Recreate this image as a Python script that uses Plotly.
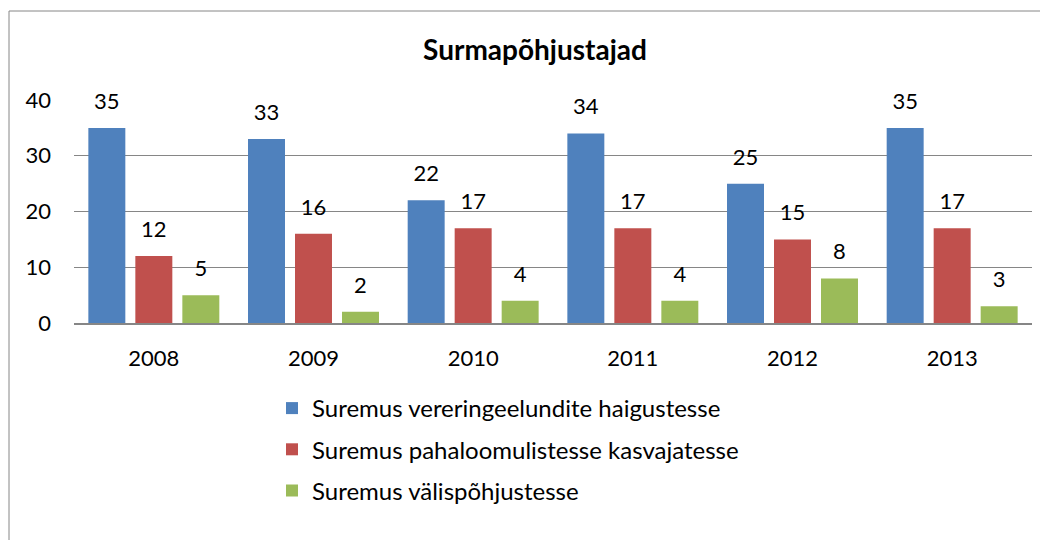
import plotly.graph_objects as go

years = ["2008", "2009", "2010", "2011", "2012", "2013"]
veresoon = [35, 33, 22, 34, 25, 35]
kasvajad = [12, 16, 17, 17, 15, 17]
valis = [5, 2, 4, 4, 8, 3]

series_names = [
    "Suremus vereringeelundite haigustesse",
    "Suremus pahaloomulistesse kasvajatesse",
    "Suremus välispõhjustesse",
]
series_values = [veresoon, kasvajad, valis]
colors = ["#4F81BD", "#C0504D", "#9BBB59"]

FONT = "Lato"
W, H = 1040, 532          # page body has an 8px margin
L, R, T, B = 66, 16, 92, 217
PW, PH = W - L - R, H - T - B

fig = go.Figure()
for i, (name, vals, col) in enumerate(zip(series_names, series_values, colors)):
    fig.add_trace(go.Bar(
        x=years, y=vals, name=name, marker=dict(color=col, line=dict(width=0)),
        legendgroup=f"g{i}", hoverinfo="skip",
    ))
for i, (name, vals) in enumerate(zip(series_names, series_values)):
    fig.add_trace(go.Scatter(
        x=years, y=vals, mode="markers+text", text=[str(v) for v in vals],
        textposition="top center", textfont=dict(family=FONT, size=22, color="#000000"),
        marker=dict(size=20, opacity=0), showlegend=False, cliponaxis=False,
        hoverinfo="skip",
    ))

# frame around chart area
fig.add_shape(type="rect", xref="paper", yref="paper",
              x0=(1 - L) / PW, x1=(1060 - L) / PW,
              y0=(H - B - 560) / PH, y1=(H - B - 3) / PH,
              line=dict(color="#868686", width=1), fillcolor="rgba(0,0,0,0)", layer="below")

fig.update_layout(
    width=W, height=H,
    margin=dict(l=L, r=R, t=T, b=B),
    paper_bgcolor="white", plot_bgcolor="white",
    barmode="group", bargap=0.117, bargroupgap=0.213,
    scattermode="group", scattergap=0.117,
    title=dict(text="<b>Surmapõhjustajad</b>", x=527 / W, xanchor="center",
               y=1 - 42 / H, yanchor="middle", xref="container", yref="container",
               font=dict(family=FONT, size=28, color="#000000")),
    font=dict(family=FONT, size=22, color="#000000"),
    showlegend=True,
    legend=dict(x=(264 - L) / PW, xanchor="left", y=(H - B - 378) / PH, yanchor="top",
                orientation="v", traceorder="grouped", tracegroupgap=7,
                font=dict(family=FONT, size=24, color="#000000"),
                bgcolor="rgba(0,0,0,0)"),
    xaxis=dict(showgrid=False, showline=True, linecolor="#868686", linewidth=2,
               ticks="", ticklabelstandoff=15, tickfont=dict(size=22)),
    yaxis=dict(range=[0, 40], dtick=10, showgrid=True, gridcolor="#868686", gridwidth=1,
               zeroline=False, showline=False, ticks="", ticklabelstandoff=22,
               tickfont=dict(size=22)),
)

fig.write_html("out.html")
